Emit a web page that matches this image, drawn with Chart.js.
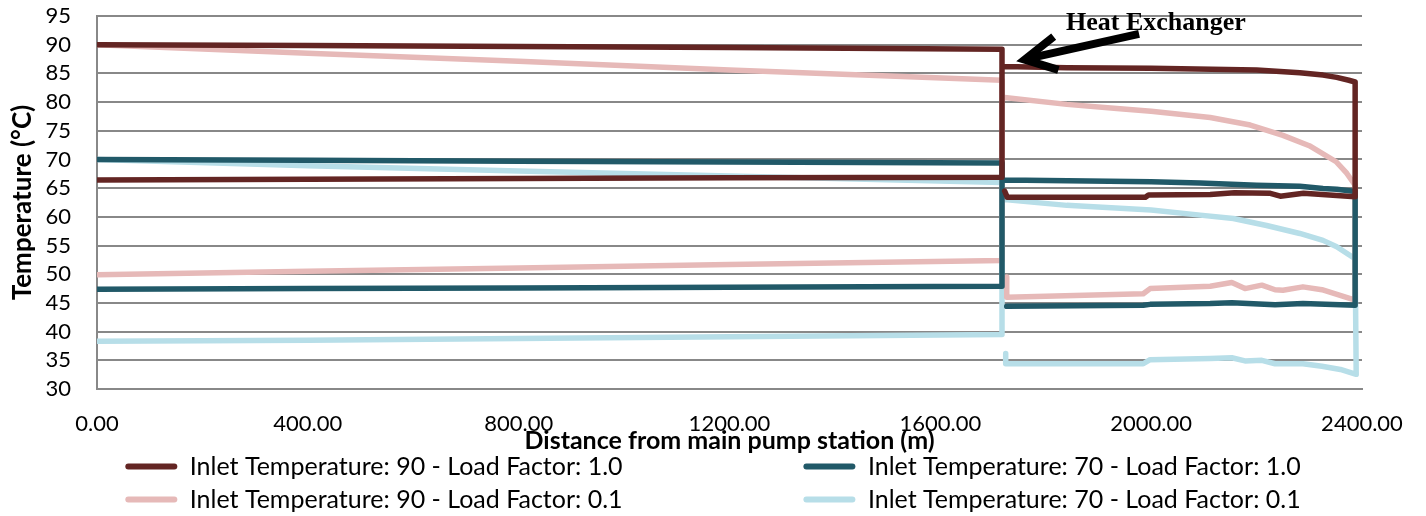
<!DOCTYPE html>
<html>
<head>
<meta charset="utf-8">
<script src="https://cdn.jsdelivr.net/npm/chart.js@4.4.1/dist/chart.umd.min.js"></script>
<style>
  html, body { margin: 0; padding: 0; background: #fff; }
  #wrap { width: 1426px; height: 516px; }
</style>
</head>
<body>
<div id="wrap"><canvas id="temp-chart"></canvas></div>
<script>
// series names (legend)
const seriesNames = [
  'Inlet Temperature: 90 - Load Factor: 1.0',
  'Inlet Temperature: 70 - Load Factor: 1.0',
  'Inlet Temperature: 90 - Load Factor: 0.1',
  'Inlet Temperature: 70 - Load Factor: 0.1'
];
const seriesColors = ['#632523', '#215968', '#E6B9B8', '#B7DEE8'];

// x tick values (m)
const distTicks = [0, 400, 800, 1200, 1600, 2000, 2400];

// each series: primary loop (supply out, return back), gap, secondary loop after the heat exchanger
const dist90full = [0, 400, 800, 1200, 1717, 1717, 1200, 800, 400, 0, 1720,
  1722, 1840, 2000, 2200, 2282, 2326, 2352, 2375, 2387,
  2387, 2289, 2245, 2226, 2158, 2112, 1995, 1989, 1727, 1722];
const temp90full = [90, 89.85, 89.7, 89.5, 89.2, 66.9, 66.8, 66.7, 66.55, 66.4, null,
  86.2, 86.0, 85.9, 85.6, 85.1, 84.7, 84.3, 83.8, 83.5,
  63.5, 64.1, 63.6, 64.1, 64.2, 63.9, 63.8, 63.4, 63.4, 64.5];

const dist70full = [0, 400, 800, 1200, 1717, 1717, 1200, 800, 400, 0, 1720,
  1722, 2000, 2093, 2200, 2282, 2326, 2352, 2387,
  2387, 2288, 2235, 2153, 2112, 1998, 1985, 1726];
const temp70full = [70, 69.85, 69.7, 69.55, 69.4, 47.9, 47.75, 47.6, 47.5, 47.4, null,
  66.4, 66.1, 65.9, 65.5, 65.35, 64.95, 64.8, 64.4,
  44.6, 44.9, 44.7, 45.05, 44.9, 44.75, 44.6, 44.4];

const dist90low = [0, 400, 800, 1200, 1717, 1717, 1200, 800, 400, 0, 1720,
  1722, 1840, 1935, 2000, 2112, 2188, 2250, 2300, 2351, 2371, 2387,
  2387, 2324, 2288, 2250, 2235, 2210, 2178, 2153, 2112, 1998, 1985, 1726, 1726];
const temp90low = [90, 88.5, 87.1, 85.6, 83.8, 52.4, 51.7, 51.1, 50.5, 49.9, null,
  80.8, 79.6, 78.9, 78.4, 77.3, 76.0, 74.2, 72.4, 69.6, 67.6, 65.5,
  45.5, 47.3, 47.8, 47.2, 47.3, 48.1, 47.5, 48.55, 47.9, 47.5, 46.6, 46.0, 49.5];

const dist70low = [0, 400, 800, 1200, 1717, 1717, 1200, 800, 400, 0, 1720,
  1722, 1840, 2000, 2093, 2156, 2219, 2282, 2326, 2352, 2387,
  2389, 2359, 2324, 2288, 2235, 2210, 2178, 2153, 2112, 1998, 1985, 1724, 1724];
const temp70low = [70, 68.9, 68.0, 67.1, 66.0, 39.5, 39.1, 38.8, 38.5, 38.3, null,
  63.0, 62.0, 61.2, 60.3, 59.7, 58.5, 57.1, 55.9, 54.8, 52.7,
  32.55, 33.4, 33.95, 34.4, 34.4, 35.0, 34.9, 35.45, 35.3, 35.1, 34.4, 34.4, 36.2];

const seriesDist = [dist90full, dist70full, dist90low, dist70low];
const seriesTemp = [temp90full, temp70full, temp90low, temp70low];

function toPoints(xs, ys) {
  return xs.map((x, i) => ({ x: x, y: ys[i] }));
}

const gridGray = '#888888';
Chart.defaults.font.family = 'Lato';
Chart.defaults.font.size = 22;
Chart.defaults.color = '#000';

// "Heat Exchanger" label and arrow
const annotation = {
  id: 'heatExchanger',
  afterDraw(chart) {
    const c = chart.ctx, x = chart.scales.x, y = chart.scales.y;
    c.save();
    c.fillStyle = '#000';
    c.font = 'bold 26px "Liberation Serif"';
    c.textAlign = 'center';
    c.textBaseline = 'middle';
    c.fillText('Heat Exchanger', x.getPixelForValue(2009), y.getPixelForValue(93.7));
    c.strokeStyle = '#000';
    c.lineWidth = 8;
    c.lineJoin = 'miter';
    c.beginPath();
    c.moveTo(x.getPixelForValue(1977), y.getPixelForValue(91.9));
    c.lineTo(x.getPixelForValue(1768), y.getPixelForValue(87.6));
    c.stroke();
    c.beginPath();
    c.moveTo(x.getPixelForValue(1815), y.getPixelForValue(91.4));
    c.lineTo(x.getPixelForValue(1760), y.getPixelForValue(87.4));
    c.lineTo(x.getPixelForValue(1824), y.getPixelForValue(85.6));
    c.stroke();
    c.restore();
  }
};

const ctx = document.getElementById('temp-chart');
const chart = new Chart(ctx, {
  type: 'line',
  data: {
    datasets: seriesNames.map((name, i) => ({
      label: name,
      data: toPoints(seriesDist[i], seriesTemp[i]),
      borderColor: seriesColors[i],
      backgroundColor: seriesColors[i],
      borderWidth: 5.5,
      borderCapStyle: 'round',
      borderJoinStyle: 'round',
      pointRadius: 0,
      tension: 0,
      fill: false,
      spanGaps: false
    }))
  },
  options: {
    responsive: true,
    maintainAspectRatio: false,
    animation: false,
    layout: { padding: { top: 16, right: 0, left: 0, bottom: -6 } },
    scales: {
      x: {
        type: 'linear',
        min: 0,
        max: 2400,
        afterBuildTicks: (axis) => { axis.ticks = distTicks.map(v => ({ value: v })); },
        afterFit: (axis) => { axis.height = 57; axis.paddingRight = 64; },
        ticks: { padding: 22, maxRotation: 0, autoSkip: false, callback: (v) => Number(v).toFixed(2) },
        grid: { display: false, drawTicks: false },
        border: { display: true, color: gridGray, width: 2 },
        title: {
          display: true,
          text: 'Distance from main pump station (m)',
          font: { weight: 'bold', size: 25 },
          padding: { top: 0, bottom: -10 }
        }
      },
      y: {
        min: 30,
        max: 95,
        afterFit: (axis) => { axis.width = 97; axis.paddingTop = 0; axis.paddingBottom = 0; },
        ticks: { stepSize: 5, padding: 26, autoSkip: false },
        grid: { color: gridGray, lineWidth: 2, drawTicks: false },
        border: { display: true, color: gridGray, width: 2 },
        title: {
          display: true,
          text: 'Temperature (°C)',
          font: { weight: 'bold', size: 26 },
          padding: { top: 7, bottom: 0 }
        }
      }
    },
    plugins: {
      legend: {
        position: 'bottom',
        labels: {
          font: { size: 25 },
          boxWidth: 52,
          boxHeight: 6,
          padding: 8,
          useBorderRadius: true,
          borderRadius: 3,
          generateLabels: (ch) => {
            const items = Chart.defaults.plugins.legend.labels.generateLabels(ch);
            const c = ch.ctx;
            c.save();
            c.font = '25px Lato';
            items.forEach((it, i) => {
              it.lineWidth = 0;
              // pad first-column entries so the two legend columns line up
              if (i % 2 === 0) {
                let t = it.text;
                while (c.measureText(t).width < 603) t += ' ';
                it.text = t;
              }
            });
            c.restore();
            return items;
          }
        }
      },
      tooltip: { enabled: false }
    }
  },
  plugins: [annotation]
});
</script>
</body>
</html>
